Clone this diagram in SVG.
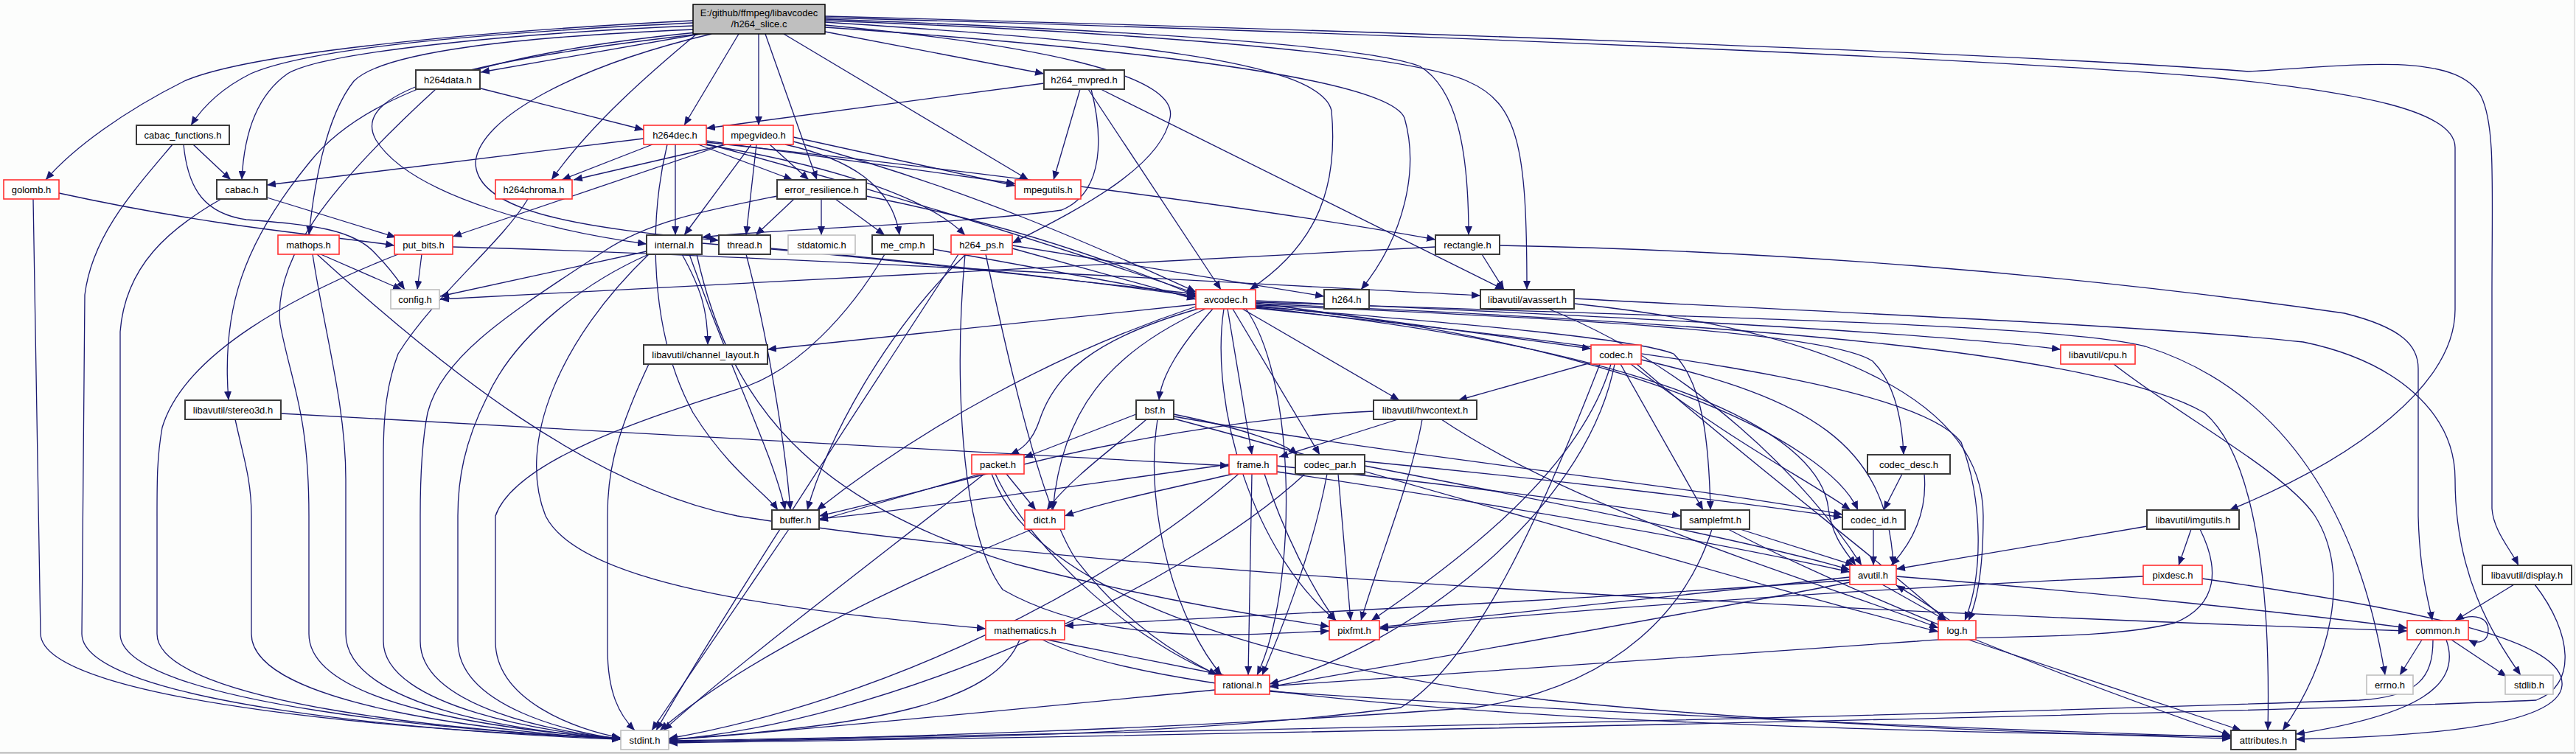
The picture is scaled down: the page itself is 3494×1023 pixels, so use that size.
<svg xmlns="http://www.w3.org/2000/svg" width="3494" height="1023" viewBox="0 0 3494 1023">
<style>
.e{fill:none;stroke:#191970;stroke-width:1.3;marker-end:url(#a)}
.n rect{fill:#fff}
.b rect{stroke:#3a3a3a;stroke-width:2}
.r rect{stroke:#ff3030;stroke-width:1.6}
.g rect{stroke:#bfbfbf;stroke-width:1.6}
text{font-family:"Liberation Sans",Arial,sans-serif;font-size:13px;text-anchor:middle;fill:#000}
</style>
<defs>
<marker id="a" markerWidth="12" markerHeight="10" viewBox="0 0 12 10" refX="12" refY="5" orient="auto" markerUnits="userSpaceOnUse"><path d="M0,0 L12,5 L0,10 z" fill="#191970"/></marker>
</defs>
<rect x="0" y="0" width="3494" height="1023" fill="#fcfdfc"/>
<line x1="0" y1="1021.5" x2="3494" y2="1021.5" stroke="#b4b4b4" stroke-width="2"/>
<line x1="3492" y1="0" x2="3492" y2="1023" stroke="#e4e4e4" stroke-width="2"/>
<g id="edges">
<path class="e" d="M940,28 C600,45 330,75 250,110 C170,150 100,200 62,244"/>
<path class="e" d="M940,31 C650,45 420,65 340,100 C300,120 275,145 259,170"/>
<path class="e" d="M940,35 C700,45 440,70 390,100 C340,135 330,200 328,244"/>
<path class="e" d="M942,40 C700,50 520,70 480,110 C440,160 425,260 419,319"/>
<path class="e" d="M945,44 C680,70 500,120 420,220 C330,330 300,420 310,543"/>
<path class="e" d="M950,46 C650,80 470,120 510,190 C560,270 760,315 877,331"/>
<path class="e" d="M965,46 C780,90 650,160 645,220 C645,290 800,310 975,326"/>
<path class="e" d="M950,46 L652,98"/>
<path class="e" d="M1002,46 L928,170"/>
<path class="e" d="M1029,46 L1029,170"/>
<path class="e" d="M1038,46 L1108,244"/>
<path class="e" d="M1063,46 L1395,244"/>
<path class="e" d="M945,46 C880,100 800,170 748,244"/>
<path class="e" d="M1119,43 L1416,100"/>
<path class="e" d="M1119,34 C1400,60 1600,100 1587,160 C1575,230 1450,290 1373,330"/>
<path class="e" d="M1119,30 C1500,55 1790,80 1806,150 C1815,250 1790,330 1695,393"/>
<path class="e" d="M1119,37 C1450,60 1880,100 1905,160 C1925,230 1905,320 1846,393"/>
<path class="e" d="M1119,26 C1500,40 1850,60 1926,90 C1975,120 1992,200 1992,319"/>
<path class="e" d="M1119,28 C1500,42 1900,70 1990,110 C2060,140 2071,200 2071,393"/>
<path class="e" d="M1119,22 C1800,40 2700,70 3050,97 C3200,88 3330,70 3365,130 C3385,170 3380,250 3380,400 L3380,690 C3382,720 3405,745 3416,767"/>
<path class="e" d="M1119,24 C1900,45 2700,80 3000,105 C3200,125 3330,150 3330,200 L3330,420 C3330,520 3200,620 3024,692"/>
<path class="e" d="M652,120 L873,176"/>
<path class="e" d="M591,121 C450,250 370,350 380,440 C395,520 419,560 419,700 L419,860 C419,960 700,992 842,1002"/>
<path class="e" d="M1416,113 L958,174"/>
<path class="e" d="M1465,121 L1429,244"/>
<path class="e" d="M1476,121 L1656,393"/>
<path class="e" d="M1493,121 L2040,393"/>
<path class="e" d="M1480,121 C1495,180 1500,260 1440,285 C1300,305 1050,310 952,322"/>
<path class="e" d="M262,196 L313,244"/>
<path class="e" d="M234,196 C180,260 125,320 115,400 L111,860 C112,955 600,995 842,1003"/>
<path class="e" d="M249,196 C255,260 280,290 334,298 C420,305 480,310 510,345 C530,365 540,380 549,393"/>
<path class="e" d="M873,188 L362,251"/>
<path class="e" d="M885,196 L762,244"/>
<path class="e" d="M916,196 L916,319"/>
<path class="e" d="M947,196 L1075,244"/>
<path class="e" d="M958,191 L1377,249"/>
<path class="e" d="M958,193 C1300,230 1700,280 1947,325"/>
<path class="e" d="M955,196 C1100,220 1250,260 1309,319"/>
<path class="e" d="M958,195 C1200,260 1450,340 1622,398"/>
<path class="e" d="M905,196 C880,300 880,450 940,560 C990,640 1040,670 1055,692"/>
<path class="e" d="M1044,196 L1097,244"/>
<path class="e" d="M1019,196 L928,319"/>
<path class="e" d="M1026,196 L1012,319"/>
<path class="e" d="M1065,196 C1150,215 1210,250 1220,319"/>
<path class="e" d="M1076,186 L1377,252"/>
<path class="e" d="M985,196 L778,244"/>
<path class="e" d="M983,196 L614,321"/>
<path class="e" d="M1076,192 C1300,250 1500,340 1622,396"/>
<path class="e" d="M1077,270 L1025,319"/>
<path class="e" d="M1114,270 L1114,319"/>
<path class="e" d="M1133,270 L1200,319"/>
<path class="e" d="M1175,266 C1350,300 1500,350 1622,401"/>
<path class="e" d="M1054,266 C960,285 880,300 819,341 C700,420 600,480 580,560 C572,600 570,650 570,700 L570,870 C570,960 760,995 842,1002"/>
<path class="e" d="M1266,338 L1622,403"/>
<path class="e" d="M1200,345 C1150,430 1080,500 1013,524 C900,560 700,620 672,700 L672,870 C672,950 780,990 842,1001"/>
<path class="e" d="M1373,333 L1796,402"/>
<path class="e" d="M1373,337 L1622,406"/>
<path class="e" d="M1310,345 C1200,450 1120,600 1095,692"/>
<path class="e" d="M1300,345 C1200,500 1000,800 890,991"/>
<path class="e" d="M1309,345 C1295,500 1300,720 1360,800 C1500,880 1700,860 1803,856"/>
<path class="e" d="M1337,345 C1380,550 1420,700 1460,760 C1530,850 1600,890 1651,916"/>
<path class="e" d="M1622,413 L1041,474"/>
<path class="e" d="M1625,419 C1480,460 1430,510 1410,570 C1400,600 1385,610 1370,617"/>
<path class="e" d="M1645,419 C1600,470 1575,510 1572,543"/>
<path class="e" d="M1665,419 L1698,617"/>
<path class="e" d="M1703,411 L2158,473"/>
<path class="e" d="M1685,419 L1898,543"/>
<path class="e" d="M1703,414 C2100,430 2480,450 2540,490 C2570,520 2580,570 2582,617"/>
<path class="e" d="M1672,419 L1790,617"/>
<path class="e" d="M1703,416 C2000,440 2220,460 2270,480 C2310,520 2318,600 2320,692"/>
<path class="e" d="M1703,415 C2200,460 2480,600 2520,692"/>
<path class="e" d="M1703,417 C2300,480 2470,600 2480,690 C2485,730 2505,750 2517,767"/>
<path class="e" d="M1622,416 C1430,480 1250,580 1108,692"/>
<path class="e" d="M1635,419 C1500,480 1440,560 1428,692"/>
<path class="e" d="M1660,419 C1640,550 1700,750 1812,842"/>
<path class="e" d="M1690,419 C1760,520 1760,800 1705,916"/>
<path class="e" d="M1703,418 C2200,470 2600,520 2660,600 C2690,680 2690,780 2665,842"/>
<path class="e" d="M1703,408 C2200,430 2600,450 2795,474"/>
<path class="e" d="M1703,410 C2300,430 2800,440 2910,470 C3100,530 3200,700 3235,916"/>
<path class="e" d="M1703,412 C2400,440 2850,480 2990,560 C3060,620 3080,800 3076,991"/>
<path class="e" d="M2158,492 L1978,543"/>
<path class="e" d="M2170,494 C2090,700 2000,900 1900,960 C1600,1000 1200,1003 907,1006"/>
<path class="e" d="M2185,494 C2140,650 1950,780 1860,842"/>
<path class="e" d="M2190,494 C2150,700 1900,880 1722,928"/>
<path class="e" d="M2198,494 L2310,692"/>
<path class="e" d="M2212,494 C2350,600 2450,650 2510,692"/>
<path class="e" d="M2226,488 C2450,540 2560,600 2568,767"/>
<path class="e" d="M2220,494 C2400,650 2550,760 2640,842"/>
<path class="e" d="M1896,569 L1735,620"/>
<path class="e" d="M1863,558 C1700,565 1500,600 1350,640 C1250,665 1180,685 1111,700"/>
<path class="e" d="M1929,569 C1915,650 1870,760 1846,842"/>
<path class="e" d="M1955,569 C2150,700 2500,800 2629,852"/>
<path class="e" d="M1541,562 L1389,621"/>
<path class="e" d="M1592,562 C1680,580 1740,600 1760,617"/>
<path class="e" d="M1592,565 C1900,620 2300,660 2499,698"/>
<path class="e" d="M1592,568 C1900,650 2400,800 2629,857"/>
<path class="e" d="M1555,569 C1520,600 1450,650 1420,692"/>
<path class="e" d="M1570,569 C1550,700 1600,850 1657,916"/>
<path class="e" d="M1330,643 L1111,706"/>
<path class="e" d="M1365,643 L1405,692"/>
<path class="e" d="M1335,643 C1200,750 1000,900 900,991"/>
<path class="e" d="M1350,643 C1400,750 1550,880 1660,918"/>
<path class="e" d="M1345,643 C1400,800 1700,900 2100,950 C2500,990 2900,998 3026,1002"/>
<path class="e" d="M1667,630 C1450,660 1250,690 1111,704"/>
<path class="e" d="M1672,643 C1600,660 1500,680 1444,700"/>
<path class="e" d="M1698,643 L1693,916"/>
<path class="e" d="M1715,643 C1740,720 1780,800 1812,842"/>
<path class="e" d="M1680,643 C1500,800 1200,950 907,1002"/>
<path class="e" d="M1732,632 C1900,650 2150,680 2280,700"/>
<path class="e" d="M1732,640 C2000,680 2300,730 2509,776"/>
<path class="e" d="M1815,643 L1832,842"/>
<path class="e" d="M1800,643 C1780,750 1740,850 1712,916"/>
<path class="e" d="M1770,643 C1600,800 1200,980 907,1004"/>
<path class="e" d="M1851,626 C2100,650 2350,680 2499,702"/>
<path class="e" d="M1851,632 C2100,680 2400,740 2509,773"/>
<path class="e" d="M2580,643 L2555,692"/>
<path class="e" d="M2610,643 C2615,700 2590,740 2565,767"/>
<path class="e" d="M2360,718 L2515,767"/>
<path class="e" d="M2322,718 C2290,820 2200,930 2000,960 C1600,990 1200,1000 907,1007"/>
<path class="e" d="M2344,718 C2500,800 2800,920 3026,998"/>
<path class="e" d="M2541,718 L2541,767"/>
<path class="e" d="M2972,718 L2955,767"/>
<path class="e" d="M2912,714 L2572,772"/>
<path class="e" d="M2984,718 C3010,770 3010,820 2950,845 C2850,870 2700,860 2600,870 C2200,900 1900,920 1722,931"/>
<path class="e" d="M2907,782 C2500,800 2100,830 1871,853"/>
<path class="e" d="M2987,785 C3300,830 3480,870 3475,930 C3470,990 3250,1000 3114,1003"/>
<path class="e" d="M3410,793 L3330,842"/>
<path class="e" d="M3438,793 C3490,860 3495,930 3440,950 C3000,970 1500,1000 907,1008"/>
<path class="e" d="M2572,782 C2800,800 3100,830 3265,852"/>
<path class="e" d="M2553,793 L2640,842"/>
<path class="e" d="M2509,783 L1871,851"/>
<path class="e" d="M2509,787 C2200,810 1800,830 1444,849"/>
<path class="e" d="M2509,790 C2200,850 1900,900 1722,932"/>
<path class="e" d="M2645,842 C2615,820 2590,805 2572,794"/>
<path class="e" d="M2670,868 L3040,991"/>
<path class="e" d="M1420,868 L1660,916"/>
<path class="e" d="M1383,868 C1350,950 1200,985 907,1003"/>
<path class="e" d="M1414,868 C1600,960 2300,990 3026,999"/>
<path class="e" d="M1648,936 C1400,960 1100,990 907,1004"/>
<path class="e" d="M1722,938 C2200,970 2700,990 3026,1000"/>
<path class="e" d="M3285,868 L3255,916"/>
<path class="e" d="M3325,868 L3400,918"/>
<path class="e" d="M3300,868 C3300,920 3280,945 3200,950 C2500,975 1500,995 907,1005"/>
<path class="e" d="M3318,868 C3340,930 3280,970 3114,996"/>
<path class="e" d="M3330,842 C3360,830 3375,840 3375,855 C3375,870 3362,875 3348,868"/>
<path class="e" d="M1070,718 L884,991"/>
<path class="e" d="M1400,718 C1200,800 1000,900 895,991"/>
<path class="e" d="M880,494 C830,600 824,650 824,700 L824,880 C824,940 840,970 861,991"/>
<path class="e" d="M319,569 C330,620 341,650 341,700 L341,860 C341,960 700,995 842,1003"/>
<path class="e" d="M381,561 C900,590 1300,615 1667,632"/>
<path class="e" d="M424,345 C440,450 469,550 469,650 L469,860 C469,960 720,995 842,1002"/>
<path class="e" d="M435,345 L545,393"/>
<path class="e" d="M430,345 C600,500 800,660 1000,700 C1500,780 2500,830 3265,856"/>
<path class="e" d="M540,345 C400,400 250,480 220,580 C213,620 213,650 213,700 L213,860 C213,955 650,995 842,1002"/>
<path class="e" d="M572,345 L566,393"/>
<path class="e" d="M614,335 C1000,345 1600,380 2008,401"/>
<path class="e" d="M45,270 L55,860 C58,955 600,995 842,1001"/>
<path class="e" d="M80,262 C300,310 450,320 535,333"/>
<path class="e" d="M362,268 L537,322"/>
<path class="e" d="M300,270 C230,310 170,360 163,450 L163,860 C163,955 650,995 842,1002"/>
<path class="e" d="M716,270 C680,330 590,400 540,480 C525,520 520,560 520,620 L520,870 C520,960 750,995 842,1002"/>
<path class="e" d="M877,341 L597,402"/>
<path class="e" d="M925,345 C950,390 960,420 960,468"/>
<path class="e" d="M952,330 C1200,350 1450,380 1622,399"/>
<path class="e" d="M935,345 C990,500 1050,620 1065,692"/>
<path class="e" d="M945,345 C990,550 1100,680 1376,765 C1550,810 1700,835 1803,850"/>
<path class="e" d="M880,345 C760,460 700,600 740,700 C790,800 1100,830 1337,853"/>
<path class="e" d="M880,345 C800,380 700,450 660,540 C630,600 621,650 621,700 L621,870 C621,960 780,995 842,1003"/>
<path class="e" d="M1012,345 C1040,450 1065,600 1072,692"/>
<path class="e" d="M1045,337 C1300,360 1500,385 1622,402"/>
<path class="e" d="M2010,345 L2040,393"/>
<path class="e" d="M1947,335 L597,406"/>
<path class="e" d="M2034,333 C2400,340 2800,370 3180,425 C3260,445 3280,470 3280,500 L3280,700 C3282,780 3295,820 3299,842"/>
<path class="e" d="M2135,405 C2400,420 2900,440 3124,464 C3250,490 3330,560 3330,650 C3330,780 3380,860 3419,916"/>
<path class="e" d="M2100,419 C2300,500 2450,650 2525,767"/>
<path class="e" d="M2135,412 C2500,450 2690,550 2690,700 C2690,780 2680,820 2670,842"/>
<path class="e" d="M2867,494 C2950,560 3100,640 3140,700 C3190,780 3160,900 3096,991"/>
</g>
<g id="main"><rect x="940" y="6" width="179" height="40" fill="#bfbfbf" stroke="#000" stroke-width="1.5"/><text x="1029.5" y="22">E:/github/ffmpeg/libavcodec</text><text x="1029.5" y="37">/h264_slice.c</text></g>
<g id="h264data" class="n b"><rect x="564" y="95" width="87" height="26"/><text x="607.5" y="112.5">h264data.h</text></g>
<g id="h264_mvpred" class="n b"><rect x="1416" y="95" width="109" height="26"/><text x="1470.5" y="112.5">h264_mvpred.h</text></g>
<g id="cabac_functions" class="n b"><rect x="185" y="170" width="126" height="26"/><text x="248" y="187.5">cabac_functions.h</text></g>
<g id="h264dec" class="n r"><rect x="873" y="170" width="85" height="26"/><text x="915.5" y="187.5">h264dec.h</text></g>
<g id="mpegvideo" class="n r"><rect x="981" y="170" width="95" height="26"/><text x="1028.5" y="187.5">mpegvideo.h</text></g>
<g id="golomb" class="n r"><rect x="5" y="244" width="75" height="26"/><text x="42.5" y="261.5">golomb.h</text></g>
<g id="cabac" class="n b"><rect x="294" y="244" width="68" height="26"/><text x="328" y="261.5">cabac.h</text></g>
<g id="h264chroma" class="n r"><rect x="672" y="244" width="104" height="26"/><text x="724" y="261.5">h264chroma.h</text></g>
<g id="error_resilience" class="n b"><rect x="1054" y="244" width="121" height="26"/><text x="1114.5" y="261.5">error_resilience.h</text></g>
<g id="mpegutils" class="n r"><rect x="1377" y="244" width="89" height="26"/><text x="1421.5" y="261.5">mpegutils.h</text></g>
<g id="mathops" class="n r"><rect x="377" y="319" width="83" height="26"/><text x="418.5" y="336.5">mathops.h</text></g>
<g id="put_bits" class="n r"><rect x="535" y="319" width="79" height="26"/><text x="574.5" y="336.5">put_bits.h</text></g>
<g id="internal" class="n b"><rect x="877" y="319" width="75" height="26"/><text x="914.5" y="336.5">internal.h</text></g>
<g id="thread" class="n b"><rect x="975" y="319" width="70" height="26"/><text x="1010" y="336.5">thread.h</text></g>
<g id="stdatomic" class="n g"><rect x="1069" y="319" width="91" height="26"/><text x="1114.5" y="336.5">stdatomic.h</text></g>
<g id="me_cmp" class="n b"><rect x="1183" y="319" width="83" height="26"/><text x="1224.5" y="336.5">me_cmp.h</text></g>
<g id="h264_ps" class="n r"><rect x="1290" y="319" width="83" height="26"/><text x="1331.5" y="336.5">h264_ps.h</text></g>
<g id="rectangle" class="n b"><rect x="1947" y="319" width="87" height="26"/><text x="1990.5" y="336.5">rectangle.h</text></g>
<g id="config" class="n g"><rect x="530" y="393" width="66" height="26"/><text x="563" y="410.5">config.h</text></g>
<g id="avcodec" class="n r"><rect x="1622" y="393" width="81" height="26"/><text x="1662.5" y="410.5">avcodec.h</text></g>
<g id="h264" class="n b"><rect x="1796" y="393" width="61" height="26"/><text x="1826.5" y="410.5">h264.h</text></g>
<g id="avassert" class="n b"><rect x="2008" y="393" width="127" height="26"/><text x="2071.5" y="410.5">libavutil/avassert.h</text></g>
<g id="channel_layout" class="n b"><rect x="873" y="468" width="168" height="26"/><text x="957" y="485.5">libavutil/channel_layout.h</text></g>
<g id="codec" class="n r"><rect x="2158" y="468" width="68" height="26"/><text x="2192" y="485.5">codec.h</text></g>
<g id="cpu" class="n r"><rect x="2795" y="468" width="101" height="26"/><text x="2845.5" y="485.5">libavutil/cpu.h</text></g>
<g id="stereo3d" class="n b"><rect x="251" y="543" width="130" height="26"/><text x="316" y="560.5">libavutil/stereo3d.h</text></g>
<g id="bsf" class="n b"><rect x="1541" y="543" width="51" height="26"/><text x="1566.5" y="560.5">bsf.h</text></g>
<g id="hwcontext" class="n b"><rect x="1863" y="543" width="140" height="26"/><text x="1933" y="560.5">libavutil/hwcontext.h</text></g>
<g id="packet" class="n r"><rect x="1318" y="617" width="71" height="26"/><text x="1353.5" y="634.5">packet.h</text></g>
<g id="frame" class="n r"><rect x="1667" y="617" width="65" height="26"/><text x="1699.5" y="634.5">frame.h</text></g>
<g id="codec_par" class="n b"><rect x="1757" y="617" width="94" height="26"/><text x="1804" y="634.5">codec_par.h</text></g>
<g id="codec_desc" class="n b"><rect x="2533" y="617" width="112" height="26"/><text x="2589" y="634.5">codec_desc.h</text></g>
<g id="buffer" class="n b"><rect x="1047" y="692" width="64" height="26"/><text x="1079" y="709.5">buffer.h</text></g>
<g id="dict" class="n r"><rect x="1390" y="692" width="54" height="26"/><text x="1417" y="709.5">dict.h</text></g>
<g id="samplefmt" class="n b"><rect x="2280" y="692" width="93" height="26"/><text x="2326.5" y="709.5">samplefmt.h</text></g>
<g id="codec_id" class="n b"><rect x="2499" y="692" width="85" height="26"/><text x="2541.5" y="709.5">codec_id.h</text></g>
<g id="imgutils" class="n b"><rect x="2912" y="692" width="125" height="26"/><text x="2974.5" y="709.5">libavutil/imgutils.h</text></g>
<g id="avutil" class="n r"><rect x="2509" y="767" width="63" height="26"/><text x="2540.5" y="784.5">avutil.h</text></g>
<g id="pixdesc" class="n r"><rect x="2907" y="767" width="80" height="26"/><text x="2947" y="784.5">pixdesc.h</text></g>
<g id="display" class="n b"><rect x="3367" y="767" width="121" height="26"/><text x="3427.5" y="784.5">libavutil/display.h</text></g>
<g id="mathematics" class="n r"><rect x="1337" y="842" width="107" height="26"/><text x="1390.5" y="859.5">mathematics.h</text></g>
<g id="pixfmt" class="n r"><rect x="1803" y="842" width="68" height="26"/><text x="1837" y="859.5">pixfmt.h</text></g>
<g id="log" class="n r"><rect x="2629" y="842" width="51" height="26"/><text x="2654.5" y="859.5">log.h</text></g>
<g id="common" class="n r"><rect x="3265" y="842" width="83" height="26"/><text x="3306.5" y="859.5">common.h</text></g>
<g id="rational" class="n r"><rect x="1648" y="916" width="74" height="26"/><text x="1685" y="933.5">rational.h</text></g>
<g id="errno" class="n g"><rect x="3210" y="916" width="63" height="26"/><text x="3241.5" y="933.5">errno.h</text></g>
<g id="stdlib" class="n g"><rect x="3398" y="916" width="65" height="26"/><text x="3430.5" y="933.5">stdlib.h</text></g>
<g id="stdint" class="n g"><rect x="842" y="991" width="65" height="26"/><text x="874.5" y="1008.5">stdint.h</text></g>
<g id="attributes" class="n b"><rect x="3026" y="991" width="88" height="26"/><text x="3070" y="1008.5">attributes.h</text></g>
</svg>
